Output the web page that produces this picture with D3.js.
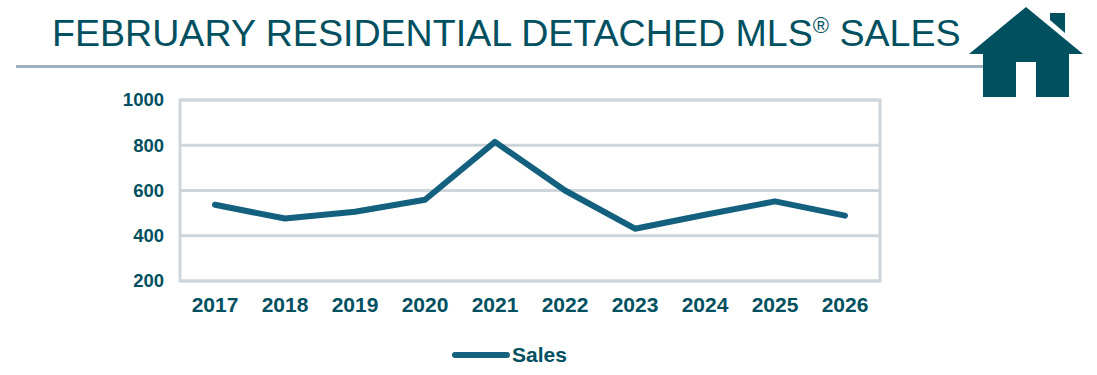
<!DOCTYPE html>
<html>
<head>
<meta charset="utf-8">
<script src="https://cdn.jsdelivr.net/npm/d3@7"></script>
<style>
  html, body { margin: 0; padding: 0; background: #fff; overflow: hidden; }
  text { font-family: "Liberation Sans", Arial, sans-serif; }
</style>
</head>
<body>
<svg></svg>
<script>
const years = ["2017", "2018", "2019", "2020", "2021", "2022", "2023", "2024", "2025", "2026"];
const sales = [537, 476, 506, 559, 815, 600, 431, 493, 552, 489];
const yTicks = [200, 400, 600, 800, 1000];
const seriesName = "Sales";

const width = 1097, height = 375;
const margin = { top: 100, right: 217, bottom: 94, left: 180 };
const textColor = "#01505f", lineColor = "#14617f", gridColor = "#ced5db";

const svg = d3.select("svg").attr("width", width).attr("height", height);

// header
const title = svg.append("text")
    .attr("x", 52)
    .attr("y", 46)
    .style("font-size", "37.6px")
    .style("fill", textColor);
title.append("tspan").text("FEBRUARY RESIDENTIAL DETACHED MLS");
title.append("tspan").text("®").attr("dy", -13).style("font-size", "22px");
title.append("tspan").text(" SALES").attr("dy", 13);

svg.append("rect")
    .attr("x", 16).attr("y", 65)
    .attr("width", 968).attr("height", 3)
    .attr("fill", "#9fb0bd");

// house icon
const house = svg.append("g").attr("fill", "#01505f");
house.append("path").attr("d", "M1050 13H1065V33L1050 20Z");
house.append("path").attr("d", "M1026 7L1083 54H969Z");
house.append("path").attr("d", "M983 54H1069V97H1036V62H1016V97H983Z");

// scales
const x = d3.scaleBand()
    .domain(years)
    .range([margin.left, width - margin.right]);

const y = d3.scaleLinear()
    .domain([200, 1000])
    .range([height - margin.bottom, margin.top]);

// grid + axes
svg.append("g")
    .attr("transform", `translate(${margin.left},0)`)
    .call(d3.axisLeft(y).tickValues(yTicks).tickFormat(d3.format("d")).tickSize(0).tickPadding(16))
    .call(g => g.select(".domain").remove())
    .selectAll("text")
    .style("font-size", "18.5px")
    .style("font-weight", "bold")
    .style("fill", textColor);

svg.append("g")
    .selectAll("line")
    .data(yTicks)
    .enter()
    .append("line")
    .attr("x1", margin.left)
    .attr("x2", width - margin.right)
    .attr("y1", d => y(d))
    .attr("y2", d => y(d))
    .attr("stroke", gridColor)
    .attr("stroke-width", 3);

svg.append("rect")
    .attr("x", margin.left)
    .attr("y", margin.top)
    .attr("width", width - margin.right - margin.left)
    .attr("height", height - margin.bottom - margin.top)
    .attr("fill", "none")
    .attr("stroke", gridColor)
    .attr("stroke-width", 3);

svg.append("g")
    .attr("transform", `translate(0,${height - margin.bottom})`)
    .call(d3.axisBottom(x).tickSize(0).tickPadding(16))
    .call(g => g.select(".domain").remove())
    .selectAll("text")
    .style("font-size", "21px")
    .style("font-weight", "bold")
    .style("fill", textColor);

// sales line
const line = d3.line()
    .x((d, i) => x(years[i]) + x.bandwidth() / 2)
    .y(d => y(d));

svg.append("path")
    .datum(sales)
    .attr("d", line)
    .attr("fill", "none")
    .attr("stroke", lineColor)
    .attr("stroke-width", 6)
    .attr("stroke-linecap", "round")
    .attr("stroke-linejoin", "round");

// legend
svg.append("line")
    .attr("x1", 455).attr("x2", 507)
    .attr("y1", 355).attr("y2", 355)
    .attr("stroke", lineColor)
    .attr("stroke-width", 6)
    .attr("stroke-linecap", "round");

svg.append("text")
    .attr("x", 512)
    .attr("y", 362)
    .text(seriesName)
    .style("font-size", "21px")
    .style("font-weight", "bold")
    .style("fill", textColor);
</script>
</body>
</html>
